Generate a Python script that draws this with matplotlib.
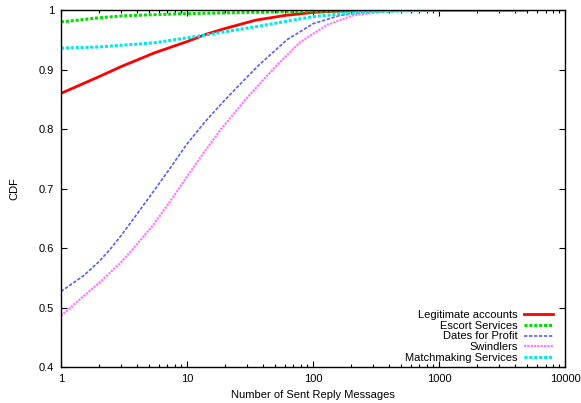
import matplotlib
matplotlib.use("Agg")
import matplotlib.pyplot as plt

plt.rcParams['font.family'] = ['Liberation Sans', 'DejaVu Sans']

legit_x = [1, 2, 3, 5.5, 10, 14, 20, 35, 60, 100, 150, 300, 1000, 5000]
legit_y = [0.860, 0.888, 0.905, 0.928, 0.947, 0.959, 0.969, 0.983, 0.991, 0.996, 0.998, 1.0, 1.0, 1.0]

escort_x = [1, 2, 3, 5, 10, 30, 100, 300, 1000, 5000]
escort_y = [0.980, 0.987, 0.990, 0.992, 0.994, 0.996, 0.998, 0.999, 1.0, 1.0]

dates_x = [1, 1.5, 2, 2.5, 3, 4, 5.5, 7.5, 10, 14, 20, 28, 37, 62, 100, 163, 300, 1000, 5000]
dates_y = [0.527, 0.553, 0.577, 0.600, 0.621, 0.657, 0.697, 0.737, 0.775, 0.813, 0.849, 0.881, 0.907, 0.950, 0.977, 0.991, 0.998, 1.0, 1.0]

swind_x = [1, 1.4, 2, 3, 4, 5.5, 7.5, 10, 14, 19, 29, 40, 51, 79, 129, 208, 384, 1000, 5000]
swind_y = [0.486, 0.513, 0.541, 0.576, 0.606, 0.641, 0.681, 0.720, 0.764, 0.802, 0.849, 0.882, 0.906, 0.946, 0.975, 0.991, 0.998, 1.0, 1.0]

match_x = [1, 2, 5.5, 14, 35, 100, 200, 400, 1000, 5000]
match_y = [0.936, 0.938, 0.945, 0.958, 0.972, 0.989, 0.995, 0.998, 1.0, 1.0]

xticks = [1, 10, 100, 1000, 10000]
yticks = [0.4, 0.5, 0.6, 0.7, 0.8, 0.9, 1]

fig = plt.figure(figsize=(5.81, 4.03), dpi=100)
ax = fig.add_axes([0.105, 0.0893, 0.8675, 0.8857])

ax.plot(legit_x, legit_y, color='#ff0000', lw=2, label='Legitimate accounts')
ax.plot(escort_x, escort_y, color='#00dd00', lw=2.2, ls=(0, (1, 0.6)), label='Escort Services')
ax.plot(dates_x, dates_y, color='#5c5cff', lw=1.2, ls=(0, (2, 1)), label='Dates for Profit')
ax.plot(swind_x, swind_y, color='#ff77ff', lw=1.6, ls=(0, (1, 0.5)), label='Swindlers')
ax.plot(match_x, match_y, color='#00e8e8', lw=2.2, ls=(0, (1, 0.6)), label='Matchmaking Services')

ax.set_xscale('log')
ax.set_xlim(1, 10000)
ax.set_ylim(0.4, 1)
ax.set_xticks(xticks)
ax.set_xticklabels([str(t) for t in xticks])
ax.set_yticks(yticks)
ax.set_yticklabels(['0.4', '0.5', '0.6', '0.7', '0.8', '0.9', '1'])
ax.tick_params(which='both', direction='in', top=True, right=True, labelsize=8, width=0.8)
ax.tick_params(which='major', length=4, pad=5)
ax.tick_params(which='minor', length=2)
for s in ax.spines.values():
    s.set_linewidth(1)

ax.set_xlabel('Number of Sent Reply Messages', fontsize=8, labelpad=4)
ax.set_ylabel('CDF', fontsize=8, labelpad=14)

ax.legend(loc='lower right', frameon=False, fontsize=8, markerfirst=False,
          handlelength=2.6, labelspacing=0.05, handletextpad=0.6,
          borderaxespad=0.2, borderpad=0.2, bbox_to_anchor=(0.985, 0.0))

fig.savefig('out.png', dpi=100)
